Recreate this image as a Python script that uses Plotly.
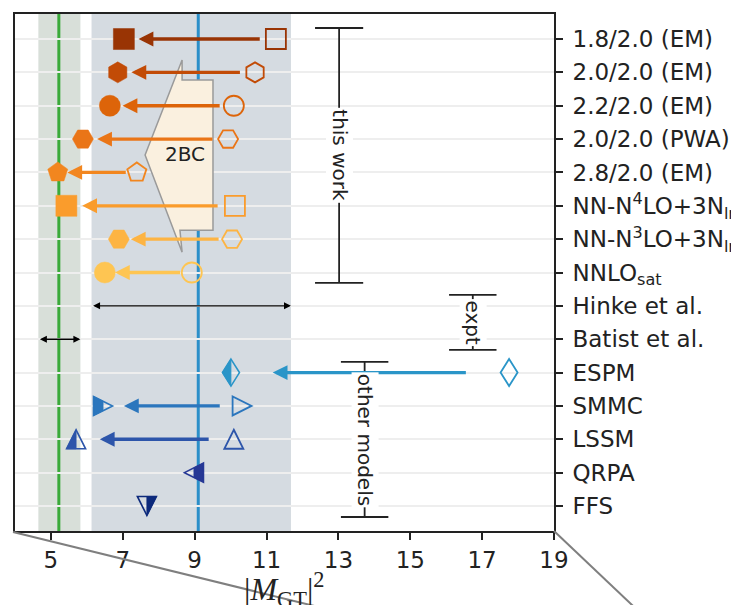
import plotly.graph_objects as go

# ---------------- data ----------------
row_labels = [
    "1.8/2.0 (EM)", "2.0/2.0 (EM)", "2.2/2.0 (EM)", "2.0/2.0 (PWA)", "2.8/2.0 (EM)",
    "NN-N<sup>4</sup>LO+3N<sub>lnl</sub>", "NN-N<sup>3</sup>LO+3N<sub>lnl</sub>", "NNLO<sub>sat</sub>",
    "Hinke et al.", "Batist et al.", "ESPM", "SMMC", "LSSM", "QRPA", "FFS",
]

# this work: 1BC only (open) -> with 2BC (filled)
work_rows = [0, 1, 2, 3, 4, 5, 6, 7]
work_1bc = [11.26, 10.68, 10.09, 9.93, 7.39, 10.12, 10.04, 8.92]
work_2bc = [7.03, 6.86, 6.64, 5.89, 5.19, 5.43, 6.89, 6.50]
work_colors = ["#993404", "#c24b06", "#dd6409", "#ea7517", "#f2861f", "#fa9c2c", "#fdb443", "#fec552"]
work_symbols = ["square", "hexagon", "circle", "hexagon2", "pentagon", "square", "hexagon2", "circle"]

# other models: bare (open) -> quenched (half filled)
model_rows = [10, 11, 12, 13, 14]
model_bare = [17.75, 10.32, 10.09, None, None]
model_quenched = [10.01, 6.45, 5.70, 8.98, 7.67]
model_colors = ["#2a95c8", "#2b76bd", "#2d55aa", "#263895", "#0d2a7c"]
model_symbols = ["diamond", "triangle-right", "triangle-up", "triangle-left", "triangle-down"]
model_halves = ["left", "left", "left", "right", "right"]

# experiments
expt_rows = [8, 9]
expt_center = [9.10, 5.22]
expt_low = [6.13, 4.65]
expt_high = [11.68, 5.82]
expt_line_colors = ["#2b8fc9", "#3aaa3a"]
expt_band_colors = ["#d5dbe1", "#d8dfd9"]

x_ticks = [5, 7, 9, 11, 13, 15, 17, 19]

# ---------------- geometry ----------------
W, H = 731, 605
PL, PR, PT, PB = 15, 554, 14, 531
XMIN, XMAX = 4, 19
PX = (PR - PL) / (XMAX - XMIN)

INK = "#222222"
FONT = "DejaVu Sans"

fig = go.Figure()
shapes = []
annotations = []

# bands
for lo, hi, c in zip(expt_low, expt_high, expt_band_colors):
    shapes.append(dict(type="rect", xref="x", yref="paper", x0=lo, x1=hi, y0=0, y1=1,
                       fillcolor=c, line=dict(width=0), layer="below"))
# central values
for xc, c in zip(expt_center, expt_line_colors):
    shapes.append(dict(type="line", xref="x", yref="paper", x0=xc, x1=xc, y0=0, y1=1,
                       line=dict(color=c, width=3), layer="between"))

# 2BC polygon
poly = [(8.65, 0.63), (8.65, 1.23), (9.51, 1.23), (9.51, 5.73), (8.59, 5.73),
        (8.65, 6.39), (7.62, 3.48)]
shapes.append(dict(type="path", xref="x", yref="y",
                   path="M" + " L".join(f"{a},{b}" for a, b in poly) + " Z",
                   fillcolor="#faf0df", line=dict(color="#9a9a9a", width=1.5), layer="between"))
annotations.append(dict(x=8.72, y=3.45, xref="x", yref="y", text="2BC", showarrow=False,
                        font=dict(family=FONT, size=20, color=INK)))

# this-work markers
fig.add_trace(go.Scatter(
    x=work_1bc, y=work_rows, mode="markers", hoverinfo="skip", showlegend=False,
    marker=dict(symbol=[s + "-open" for s in work_symbols], size=20, color=work_colors,
                line=dict(color=work_colors, width=1.8))))
fig.add_trace(go.Scatter(
    x=work_2bc, y=work_rows, mode="markers", hoverinfo="skip", showlegend=False,
    marker=dict(symbol=work_symbols, size=21, color=work_colors,
                line=dict(color=work_colors, width=0.5))))

# arrows for this work
for r, x1, x2, c in zip(work_rows, work_1bc, work_2bc, work_colors):
    L = abs(x1 - x2) * PX
    so = 4 + 0.07 * L
    annotations.append(dict(x=x2, y=r, ax=x1, ay=r, xref="x", yref="y", axref="x", ayref="y",
                            text="", showarrow=True, arrowhead=2, arrowsize=0.9, arrowwidth=3.3,
                            arrowcolor=c, standoff=so, startstandoff=so))


# marker outlines for the model symbols (pixel coordinates, y up)
def marker_poly(sym, h=9.5):
    if sym == "triangle-up":
        return [(0, h), (h, -h), (-h, -h)]
    if sym == "triangle-down":
        return [(0, -h), (-h, h), (h, h)]
    if sym == "triangle-right":
        return [(h, 0), (-h, -h), (-h, h)]
    if sym == "triangle-left":
        return [(-h, 0), (h, h), (h, -h)]
    if sym == "diamond":
        return [(0, 13.5), (8.5, 0), (0, -13.5), (-8.5, 0)]
    return []


def clip_half(pts, side):
    keep = (lambda p: p[0] <= 0) if side == "left" else (lambda p: p[0] >= 0)
    out = []
    n = len(pts)
    for i in range(n):
        a, b = pts[i], pts[(i + 1) % n]
        if keep(a):
            out.append(a)
        if keep(a) != keep(b):
            t = a[0] / (a[0] - b[0])
            out.append((0.0, a[1] + t * (b[1] - a[1])))
    return out


def to_path(pts):
    return "M" + " L".join(f"{a:.2f},{b:.2f}" for a, b in pts) + " Z"


# model arrows
for r, xb, xq, c in zip(model_rows, model_bare, model_quenched, model_colors):
    if xb is None:
        continue
    L = abs(xb - xq) * PX
    so = 0.15 * L
    annotations.append(dict(x=xq, y=r, ax=xb, ay=r, xref="x", yref="y", axref="x", ayref="y",
                            text="", showarrow=True, arrowhead=2, arrowsize=0.9, arrowwidth=3.3,
                            arrowcolor=c, standoff=so, startstandoff=so))

# model markers
for r, xb, xq, c, s, hf in zip(model_rows, model_bare, model_quenched, model_colors,
                               model_symbols, model_halves):
    full = marker_poly(s)
    base = dict(type="path", xref="x", yref="y", xsizemode="pixel", ysizemode="pixel",
                yanchor=r, layer="above")
    shapes.append(dict(base, xanchor=xq, path=to_path(clip_half(full, hf)),
                       fillcolor=c, line=dict(color=c, width=0.8)))
    shapes.append(dict(base, xanchor=xq, path=to_path(full),
                       fillcolor="rgba(0,0,0,0)", line=dict(color=c, width=1.6)))
    if xb is not None:
        shapes.append(dict(base, xanchor=xb, path=to_path(full),
                           fillcolor="rgba(0,0,0,0)", line=dict(color=c, width=1.8)))

# experiment ranges (double arrows)
for r, lo, hi in zip(expt_rows, expt_low, expt_high):
    annotations.append(dict(x=hi, y=r, ax=lo, ay=r, xref="x", yref="y", axref="x", ayref="y",
                            text="", showarrow=True, arrowside="end+start", arrowhead=2,
                            startarrowhead=2, arrowsize=1.0, startarrowsize=1.0, arrowwidth=1.4,
                            arrowcolor="black"))

# group brackets
brackets = [
    ("this work", 13.02, -0.33, 7.31, 0.67),
    ("expt", 16.74, 7.67, 9.32, 0.66),
    ("other models", 13.73, 9.68, 14.33, 0.66),
]
for txt, xb, y0, y1, cap in brackets:
    shapes.append(dict(type="line", xref="x", yref="y", x0=xb, x1=xb, y0=y0, y1=y1,
                       line=dict(color=INK, width=1.8), layer="above"))
    for yy in (y0, y1):
        shapes.append(dict(type="line", xref="x", yref="y", x0=xb - cap, x1=xb + cap, y0=yy, y1=yy,
                           line=dict(color=INK, width=1.8), layer="above"))
for txt, xb, y0, y1, cap in brackets:
    annotations.append(dict(x=xb, y=(y0 + y1) / 2, xref="x", yref="y", text=txt, showarrow=False,
                            textangle=90, bgcolor="white", borderpad=1,
                            font=dict(family=FONT, size=20, color=INK)))

# x-axis title
annotations.append(dict(x=0.5, y=(PB - 565) / (PB - PT), xref="paper", yref="paper",
                        xanchor="center", yanchor="top", showarrow=False,
                        text="|<i>M</i><sub>GT</sub>|<sup>2</sup>",
                        font=dict(family="Liberation Serif", size=32, color=INK)))

# inset connector lines
def pp(px, py):
    return (px - PL) / (PR - PL), (PB - py) / (PB - PT)

for (ax_, ay_), (bx_, by_) in [((13, 532), (400, 627)), ((554, 531), (660, 631.5))]:
    x0, y0 = pp(ax_, ay_)
    x1, y1 = pp(bx_, by_)
    shapes.append(dict(type="line", xref="paper", yref="paper", x0=x0, y0=y0, x1=x1, y1=y1,
                       line=dict(color="#7f7f7f", width=2), layer="above"))

fig.update_layout(
    width=W, height=H,
    margin=dict(l=PL, r=W - PR, t=PT, b=H - PB, autoexpand=False),
    paper_bgcolor="white", plot_bgcolor="white",
    shapes=shapes, annotations=annotations, showlegend=False,
    font=dict(family=FONT, color=INK),
    xaxis=dict(range=[XMIN, XMAX], tickvals=x_ticks, ticktext=[str(v) for v in x_ticks],
               ticks="outside", ticklen=7, tickwidth=1.5, tickcolor=INK,
               showline=True, linecolor=INK, linewidth=1.8, mirror=True,
               showgrid=False, zeroline=False, tickfont=dict(size=23, family=FONT, color=INK)),
    yaxis=dict(range=[14.75, -0.75], tickvals=list(range(len(row_labels))), ticktext=row_labels,
               side="right", ticks="outside", ticklen=7, tickwidth=1.5, tickcolor=INK,
               ticklabelstandoff=5,
               showline=True, linecolor=INK, linewidth=1.8, mirror=True,
               showgrid=True, gridcolor="#eeeeee", gridwidth=2, zeroline=False,
               tickfont=dict(size=23, family=FONT, color=INK)),
)

fig.write_html("out.html")
